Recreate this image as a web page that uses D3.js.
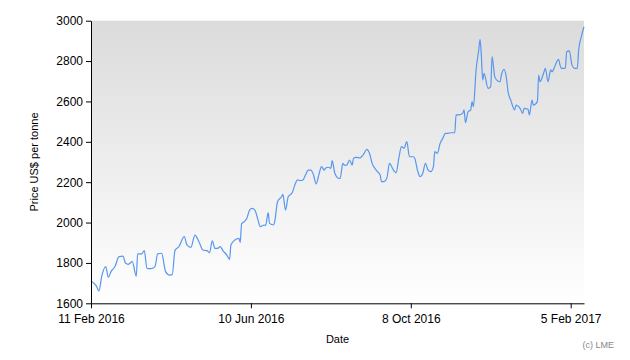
<!DOCTYPE html>
<html>
<head>
<meta charset="utf-8">
<script src="https://cdn.jsdelivr.net/npm/d3@7"></script>
<style>
  body { margin: 0; background: #fff; }
  text { font-family: "Liberation Sans", Arial, sans-serif; }
</style>
</head>
<body>
<script>
// LME price, US$ per tonne
const dates = [
  "2016-02-11", "2016-02-15", "2016-02-17", "2016-02-19", "2016-02-22", "2016-02-24", "2016-02-26", "2016-02-29",
  "2016-03-03", "2016-03-06", "2016-03-08", "2016-03-10", "2016-03-13", "2016-03-16", "2016-03-17", "2016-03-20",
  "2016-03-22", "2016-03-24", "2016-03-27", "2016-03-30", "2016-04-01", "2016-04-04", "2016-04-07", "2016-04-10",
  "2016-04-12", "2016-04-14", "2016-04-17", "2016-04-21", "2016-04-23", "2016-04-26", "2016-04-29", "2016-05-02",
  "2016-05-05", "2016-05-08", "2016-05-10", "2016-05-12", "2016-05-14", "2016-05-16", "2016-05-18", "2016-05-20",
  "2016-05-23", "2016-05-25", "2016-05-26", "2016-05-29", "2016-06-01", "2016-06-02", "2016-06-03", "2016-06-05",
  "2016-06-07", "2016-06-09", "2016-06-11", "2016-06-13", "2016-06-15", "2016-06-17", "2016-06-20", "2016-06-21",
  "2016-06-23", "2016-06-24", "2016-06-27", "2016-06-28", "2016-06-30", "2016-07-03", "2016-07-04", "2016-07-06",
  "2016-07-08", "2016-07-11", "2016-07-13", "2016-07-15", "2016-07-17", "2016-07-19", "2016-07-21", "2016-07-23",
  "2016-07-25", "2016-07-27", "2016-07-29", "2016-07-31", "2016-08-02", "2016-08-04", "2016-08-05", "2016-08-07",
  "2016-08-09", "2016-08-10", "2016-08-12", "2016-08-15", "2016-08-16", "2016-08-18", "2016-08-19", "2016-08-21",
  "2016-08-23", "2016-08-25", "2016-08-26", "2016-08-28", "2016-08-31", "2016-09-01", "2016-09-03", "2016-09-05",
  "2016-09-07", "2016-09-09", "2016-09-11", "2016-09-13", "2016-09-15", "2016-09-16", "2016-09-18", "2016-09-20",
  "2016-09-22", "2016-09-25", "2016-09-27", "2016-09-29", "2016-10-01", "2016-10-03", "2016-10-05", "2016-10-07",
  "2016-10-10", "2016-10-11", "2016-10-13", "2016-10-15", "2016-10-17", "2016-10-19", "2016-10-21", "2016-10-23",
  "2016-10-25", "2016-10-26", "2016-10-28", "2016-10-30", "2016-11-01", "2016-11-03", "2016-11-05", "2016-11-07",
  "2016-11-10", "2016-11-11", "2016-11-13", "2016-11-16", "2016-11-17", "2016-11-18", "2016-11-20", "2016-11-22",
  "2016-11-23", "2016-11-24", "2016-11-26", "2016-11-28", "2016-11-29", "2016-11-30", "2016-12-01", "2016-12-02",
  "2016-12-05", "2016-12-07", "2016-12-08", "2016-12-10", "2016-12-12", "2016-12-14", "2016-12-15", "2016-12-17",
  "2016-12-19", "2016-12-20", "2016-12-22", "2016-12-25", "2016-12-26", "2016-12-28", "2016-12-29", "2016-12-31",
  "2017-01-01", "2017-01-04", "2017-01-05", "2017-01-07", "2017-01-08", "2017-01-11", "2017-01-12", "2017-01-13",
  "2017-01-16", "2017-01-17", "2017-01-19", "2017-01-21", "2017-01-22", "2017-01-24", "2017-01-25", "2017-01-27",
  "2017-01-28", "2017-01-29", "2017-02-01", "2017-02-02", "2017-02-04", "2017-02-06", "2017-02-08", "2017-02-10",
  "2017-02-11", "2017-02-13", "2017-02-15"
];
const prices = [
  1711, 1686, 1661, 1732, 1782, 1729, 1757, 1782,
  1831, 1834, 1798, 1793, 1806, 1735, 1845, 1845,
  1861, 1773, 1772, 1782, 1845, 1848, 1757, 1740,
  1742, 1861, 1881, 1930, 1889, 1877, 1938, 1905,
  1864, 1861, 1851, 1909, 1872, 1872, 1881, 1861,
  1839, 1818, 1889, 1914, 1922, 1902, 1993, 2005,
  2021, 2062, 2070, 2062, 2021, 1980, 1988, 1985,
  2049, 1996, 1988, 2009, 2103, 2128, 2140, 2062,
  2128, 2148, 2186, 2211, 2208, 2211, 2236, 2260,
  2260, 2236, 2191, 2236, 2277, 2260, 2269, 2274,
  2269, 2307, 2244, 2219, 2219, 2293, 2285, 2285,
  2310, 2285, 2318, 2323, 2320, 2326, 2343, 2363,
  2343, 2293, 2269, 2252, 2236, 2203, 2203, 2219,
  2293, 2260, 2247, 2318, 2376, 2368, 2401, 2326,
  2326, 2318, 2260, 2227, 2244, 2293, 2260, 2252,
  2277, 2351, 2343, 2392, 2417, 2442, 2442, 2445,
  2445, 2533, 2533, 2541, 2558, 2495, 2549, 2558,
  2599, 2574, 2756, 2855, 2908, 2822, 2706, 2739,
  2665, 2673, 2822, 2723, 2703, 2698, 2731, 2759,
  2706, 2648, 2607, 2558, 2582, 2574, 2566, 2541,
  2566, 2561, 2533, 2607, 2582, 2599, 2731, 2698,
  2747, 2764, 2698, 2756, 2747, 2772, 2789, 2808,
  2780, 2764, 2764, 2846, 2851, 2780, 2764, 2764,
  2855, 2921, 2970
];
const xTickDates = ["2016-02-11", "2016-06-10", "2016-10-08", "2017-02-05"];
const yTicks = [1600, 1800, 2000, 2200, 2400, 2600, 2800, 3000];

const w = 630;
const h = 360;
const plotLeft = 91;
const plotRight = 584;
const plotTop = 20.7;
const plotBottom = 303.3;

const parseDate = d3.timeParse("%Y-%m-%d");
const dataset = dates.map((d, i) => [parseDate(d), prices[i]]);

let xScale, yScale;
const svg = d3.select("body").append("svg");

const drawCanvas = () => {
  svg.attr("width", w).attr("height", h);

  // grey-to-white plot background
  const grad = svg.append("defs").append("linearGradient")
    .attr("id", "bg")
    .attr("x1", 0).attr("y1", 0)
    .attr("x2", 0).attr("y2", 1);
  grad.append("stop").attr("offset", "0%").attr("stop-color", "#dbdbdb");
  grad.append("stop").attr("offset", "100%").attr("stop-color", "#ffffff");

  svg.append("rect")
    .attr("x", plotLeft)
    .attr("y", plotTop)
    .attr("width", plotRight - plotLeft)
    .attr("height", plotBottom - plotTop)
    .style("fill", "url(#bg)");
};

const generateScales = () => {
  xScale = d3.scaleTime()
    .domain([dataset[0][0], dataset[dataset.length - 1][0]])
    .range([plotLeft, plotRight]);

  yScale = d3.scaleLinear()
    .domain([1600, 3000])
    .range([plotBottom, plotTop]);
};

const drawLine = () => {
  const line = d3.line()
    .x((d) => xScale(d[0]))
    .y((d) => yScale(d[1]))
    .curve(d3.curveMonotoneX);

  svg.append("path")
    .datum(dataset)
    .attr("d", line)
    .style("fill", "none")
    .style("stroke", "#5797ef")
    .style("stroke-width", 1.2);
};

const generateAxis = () => {
  const xAxis = d3.axisBottom(xScale)
    .tickValues(xTickDates.map(parseDate))
    .tickFormat(d3.timeFormat("%-d %b %Y"))
    .tickSize(5)
    .tickSizeOuter(0);

  const gx = svg.append("g")
    .attr("id", "x-axis")
    .attr("transform", "translate(0," + plotBottom + ")")
    .call(xAxis);
  gx.selectAll("text").style("font-size", "12px").style("fill", "#000").attr("dy", "0.95em");

  const yAxis = d3.axisLeft(yScale)
    .tickValues(yTicks)
    .tickFormat(d3.format("d"))
    .tickSize(5)
    .tickSizeOuter(0);

  const gy = svg.append("g")
    .attr("id", "y-axis")
    .attr("transform", "translate(" + plotLeft + ",0)")
    .call(yAxis);
  gy.selectAll("text").style("font-size", "12px").style("fill", "#000").attr("x", -8);

  svg.selectAll(".domain, .tick line").style("stroke", "#000");

  // axis titles
  svg.append("text")
    .attr("x", (plotLeft + plotRight) / 2)
    .attr("y", 343)
    .attr("text-anchor", "middle")
    .style("font-size", "11px")
    .text("Date");

  svg.append("text")
    .attr("transform", "translate(38," + (plotTop + plotBottom) / 2 + ") rotate(-90)")
    .attr("text-anchor", "middle")
    .style("font-size", "11px")
    .text("Price US$ per tonne");

  svg.append("text")
    .attr("x", 614)
    .attr("y", 348)
    .attr("text-anchor", "end")
    .style("font-size", "9px")
    .style("fill", "#888")
    .text("(c) LME");
};

drawCanvas();
generateScales();
drawLine();
generateAxis();
</script>
</body>
</html>
